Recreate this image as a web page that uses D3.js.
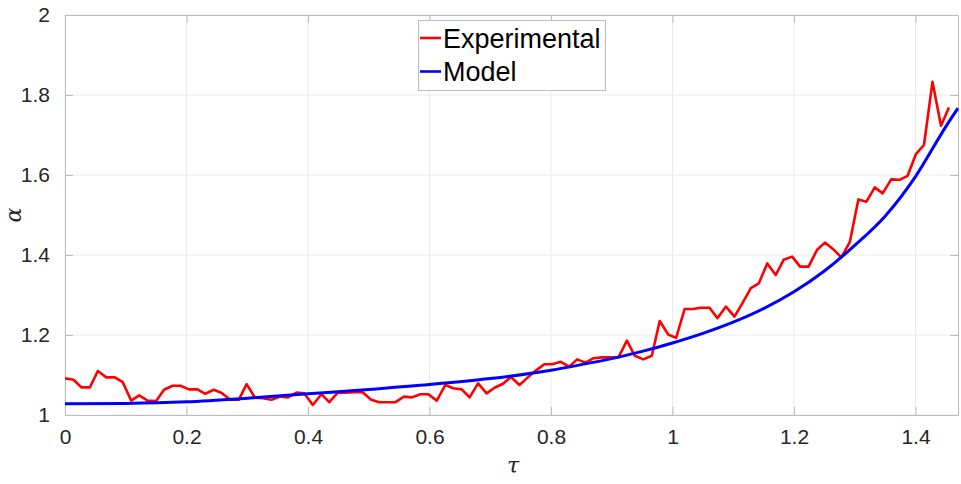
<!DOCTYPE html>
<html>
  <head>
    <meta charset="utf-8">
    <title>alpha vs tau</title>
    <script src="https://cdn.jsdelivr.net/npm/d3@7"></script>
    <style>
      body { margin: 0; background: #fff; }
      text { font-family: "Liberation Sans", Arial, sans-serif; }
    </style>
  </head>
  <body>
    <script>

      // experimental samples
      var expTau = [
        0, .014, .027, .041, .054, .068, .082, .095, .109, .122,
        .136, .150, .163, .177, .190, .204, .218, .231, .245, .258,
        .272, .286, .299, .313, .326, .340, .354, .367, .381, .394,
        .408, .422, .435, .449, .462, .476, .490, .503, .517, .530,
        .544, .558, .571, .585, .598, .612, .626, .639, .653, .666,
        .680, .694, .707, .721, .734, .748, .762, .775, .789, .802,
        .816, .830, .843, .857, .870, .884, .898, .911, .925, .938,
        .952, .966, .979, .993, 1.006, 1.020, 1.034, 1.047, 1.061, 1.074,
        1.088, 1.102, 1.115, 1.129, 1.142, 1.156, 1.170, 1.183, 1.197, 1.210,
        1.224, 1.238, 1.251, 1.265, 1.278, 1.292, 1.306, 1.319, 1.333, 1.346,
        1.360, 1.374, 1.387, 1.401, 1.414, 1.428, 1.442, 1.455
      ];
      var expAlpha = [
        1.092, 1.088, 1.069, 1.069, 1.110, 1.094, 1.094, 1.082, 1.036, 1.049,
        1.036, 1.035, 1.063, 1.073, 1.073, 1.064, 1.064, 1.053, 1.063, 1.055,
        1.038, 1.038, 1.077, 1.043, 1.042, 1.038, 1.046, 1.044, 1.056, 1.054,
        1.025, 1.052, 1.032, 1.056, 1.056, 1.057, 1.057, 1.039, 1.032, 1.032,
        1.032, 1.046, 1.044, 1.052, 1.052, 1.036, 1.075, 1.067, 1.064, 1.044,
        1.079, 1.054, 1.068, 1.078, 1.095, 1.075, 1.094, 1.111, 1.127, 1.127,
        1.133, 1.121, 1.139, 1.131, 1.142, 1.144, 1.144, 1.144, 1.186, 1.148,
        1.139, 1.148, 1.235, 1.201, 1.193, 1.265, 1.265, 1.268, 1.268, 1.242,
        1.271, 1.246, 1.279, 1.317, 1.329, 1.379, 1.350, 1.388, 1.396, 1.371,
        1.371, 1.413, 1.431, 1.414, 1.394, 1.433, 1.539, 1.533, 1.569, 1.554,
        1.589, 1.588, 1.598, 1.653, 1.675, 1.833, 1.723, 1.769
      ];

      // model curve, read at coarser steps
      var modelTau = [0, 0.1, 0.2, 0.3, 0.4, 0.5, 0.6, 0.7, 0.8, 0.85, 0.9, 0.95, 1.0,
                      1.05, 1.1, 1.15, 1.2, 1.25, 1.3, 1.35, 1.4, 1.45, 1.47];
      var modelAlpha = [1.028, 1.029, 1.033, 1.042, 1.053, 1.064, 1.076, 1.091, 1.112, 1.126, 1.141, 1.159, 1.180,
                        1.204, 1.232, 1.266, 1.308, 1.360, 1.424, 1.497, 1.596, 1.721, 1.767];

      var xTicks = [0, 0.2, 0.4, 0.6, 0.8, 1, 1.2, 1.4];
      var yTicks = [1, 1.2, 1.4, 1.6, 1.8, 2];
      var seriesNames = ["Experimental", "Model"];
      var seriesColors = ["#ff0000", "#0000ff"];

      var W = 961, H = 484;
      var pL = 65, pR = 958, pT = 15, pB = 415;

      var svg = d3.select("body").append("svg")
                  .attr("width", W)
                  .attr("height", H);

      var x = d3.scaleLinear().domain([0, 1.47]).range([pL, pR]);
      var y = d3.scaleLinear().domain([1, 2]).range([pB, pT]);

      // grid
      svg.append("g").selectAll("line").data(xTicks).enter().append("line")
         .attr("x1", d => x(d)).attr("x2", d => x(d))
         .attr("y1", pT).attr("y2", pB)
         .attr("stroke", "#ebebeb").attr("stroke-width", 1);
      svg.append("g").selectAll("line").data(yTicks).enter().append("line")
         .attr("y1", d => y(d)).attr("y2", d => y(d))
         .attr("x1", pL).attr("x2", pR)
         .attr("stroke", "#ebebeb").attr("stroke-width", 1);

      // axes on all four sides, inward ticks
      var tl = 8;
      var axB = svg.append("g").attr("transform", "translate(0," + pB + ")")
                   .call(d3.axisBottom(x).tickValues(xTicks).tickSizeInner(-tl).tickSizeOuter(0)
                           .tickPadding(14).tickFormat(d3.format("")));
      var axT = svg.append("g").attr("transform", "translate(0," + pT + ")")
                   .call(d3.axisTop(x).tickValues(xTicks).tickSizeInner(-tl).tickSizeOuter(0)
                           .tickFormat(""));
      var axL = svg.append("g").attr("transform", "translate(" + pL + ",0)")
                   .call(d3.axisLeft(y).tickValues(yTicks).tickSizeInner(-tl).tickSizeOuter(0)
                           .tickPadding(15).tickFormat(d3.format("")));
      var axR = svg.append("g").attr("transform", "translate(" + pR + ",0)")
                   .call(d3.axisRight(y).tickValues(yTicks).tickSizeInner(-tl).tickSizeOuter(0)
                           .tickFormat(""));

      [axB, axT, axL, axR].forEach(function(a) {
        a.select(".domain").attr("stroke", "#bcbcbc");
        a.selectAll(".tick line").attr("stroke", "#bcbcbc");
        a.selectAll(".tick text").attr("fill", "#262626")
         .style("font-size", "21px").style("font-family", "'Liberation Sans', Arial, sans-serif");
      });
      axB.selectAll(".tick text").attr("dy", "0.71em");

      // lines
      var line = d3.line().x(d => x(d[0])).y(d => y(d[1]));
      var smooth = d3.line().x(d => x(d[0])).y(d => y(d[1])).curve(d3.curveMonotoneX);

      svg.append("path")
         .datum(expTau.map((t, i) => [t, expAlpha[i]]))
         .attr("d", line)
         .attr("fill", "none")
         .attr("stroke", seriesColors[0])
         .attr("stroke-width", 2.6)
         .attr("stroke-linejoin", "round");

      svg.append("path")
         .datum(modelTau.map((t, i) => [t, modelAlpha[i]]))
         .attr("d", smooth)
         .attr("fill", "none")
         .attr("stroke", seriesColors[1])
         .attr("stroke-width", 3);

      // axis labels
      svg.append("text")
         .attr("x", 513).attr("y", 473)
         .attr("text-anchor", "middle")
         .style("font-family", "'DejaVu Serif', 'Liberation Serif', serif")
         .style("font-style", "italic")
         .style("font-size", "22px")
         .attr("fill", "#262626")
         .text("τ");
      svg.append("text")
         .attr("transform", "translate(21,215) rotate(-90)")
         .attr("text-anchor", "middle")
         .style("font-family", "'DejaVu Serif', 'Liberation Serif', serif")
         .style("font-style", "italic")
         .style("font-size", "22px")
         .attr("fill", "#262626")
         .text("α");

      // legend
      var lg = svg.append("g");
      lg.append("rect")
        .attr("x", 418.5).attr("y", 20.5)
        .attr("width", 187).attr("height", 70)
        .attr("fill", "#fff").attr("stroke", "#bcbcbc");
      seriesNames.forEach(function(name, i) {
        var yy = 38 + i * 33.5;
        lg.append("line")
          .attr("x1", 420).attr("x2", 441)
          .attr("y1", yy).attr("y2", yy)
          .attr("stroke", seriesColors[i]).attr("stroke-width", 2.6);
        lg.append("text")
          .attr("x", 443).attr("y", yy)
          .attr("dy", "0.36em")
          .style("font-size", "27px")
          .attr("fill", "#000")
          .text(name);
      });

    </script>
  </body>
</html>
